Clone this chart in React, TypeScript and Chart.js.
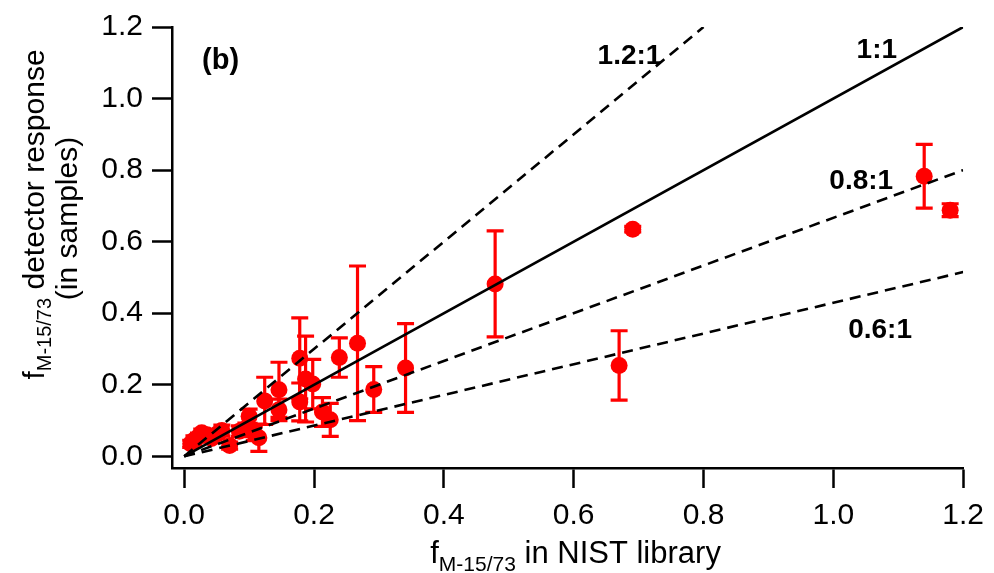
import React, { useEffect, useRef } from 'react';
import { Chart, registerables } from 'chart.js';

Chart.register(...registerables);

// ---- data ----
const xValues = [
  0.010, 0.015, 0.022, 0.027, 0.035, 0.042, 0.050, 0.058, 0.070, 0.085,
  0.095, 0.100, 0.108, 0.115, 0.124, 0.146, 0.146, 0.178, 0.178, 0.187,
  0.198, 0.213, 0.225, 0.239, 0.267, 0.292, 0.341, 0.479, 0.670, 0.691,
  1.140, 1.180,
];
const yValues = [
  0.035, 0.045, 0.055, 0.066, 0.060, 0.050, 0.062, 0.072, 0.030, 0.070,
  0.078, 0.112, 0.064, 0.052, 0.155, 0.186, 0.130, 0.274, 0.152, 0.216,
  0.202, 0.124, 0.102, 0.276, 0.316, 0.187, 0.247, 0.482, 0.254, 0.635,
  0.783, 0.688,
];
const yErrors = [
  0.010, 0.012, 0.010, 0.010, 0.012, 0.010, 0.012, 0.015, 0.010, 0.015,
  0.015, 0.020, 0.020, 0.038, 0.066, 0.077, 0.030, 0.113, 0.053, 0.120,
  0.069, 0.040, 0.046, 0.055, 0.216, 0.064, 0.124, 0.148, 0.097, 0.008,
  0.089, 0.018,
];

const ratioNames = ['1.2:1', '1:1', '0.8:1', '0.6:1'];
const ratioEndX = [0.8, 1.2, 1.2, 1.2];
const ratioEndY = [1.2, 1.2, 0.8, 0.515];
const ratioDashed = [true, false, true, true];
const ratioLabelX = [0.686, 1.067, 1.043, 1.072];
const ratioLabelY = [1.096, 1.113, 0.747, 0.331];

const panelLabel = '(b)';
const panelLabelX = 0.056;
const panelLabelY = 1.082;

const tickValues = [0, 0.2, 0.4, 0.6, 0.8, 1.0, 1.2];

const FONT = '"Liberation Sans", Arial, Helvetica, sans-serif';
const RED = '#ff0000';

type Part = { text: string; size: number; dy: number };

function drawParts(ctx: CanvasRenderingContext2D, parts: Part[], cx: number, baseY: number) {
  let total = 0;
  const widths = parts.map((p) => {
    ctx.font = `${p.size}px ${FONT}`;
    const w = ctx.measureText(p.text).width;
    total += w;
    return w;
  });
  let x = cx - total / 2;
  parts.forEach((p, i) => {
    ctx.font = `${p.size}px ${FONT}`;
    ctx.fillText(p.text, x, baseY + p.dy);
    x += widths[i];
  });
}

const errorBarPlugin = {
  id: 'errorBars',
  beforeDatasetsDraw(chart: any) {
    const { ctx } = chart;
    const xs = chart.scales.x;
    const ys = chart.scales.y;
    ctx.save();
    ctx.strokeStyle = RED;
    ctx.lineWidth = 3.2;
    for (let i = 0; i < xValues.length; i++) {
      const px = xs.getPixelForValue(xValues[i]);
      const top = ys.getPixelForValue(yValues[i] + yErrors[i]);
      const bot = ys.getPixelForValue(yValues[i] - yErrors[i]);
      ctx.beginPath();
      ctx.moveTo(px, top);
      ctx.lineTo(px, bot);
      ctx.moveTo(px - 8.5, top);
      ctx.lineTo(px + 8.5, top);
      ctx.moveTo(px - 8.5, bot);
      ctx.lineTo(px + 8.5, bot);
      ctx.stroke();
    }
    ctx.restore();
  },
};

const textPlugin = {
  id: 'texts',
  afterDraw(chart: any) {
    const { ctx } = chart;
    const xs = chart.scales.x;
    const ys = chart.scales.y;
    ctx.save();
    ctx.fillStyle = '#000';
    ctx.textBaseline = 'alphabetic';
    // ratio labels
    ctx.textAlign = 'center';
    ctx.font = `bold 28px ${FONT}`;
    for (let i = 0; i < ratioNames.length; i++) {
      ctx.fillText(ratioNames[i], xs.getPixelForValue(ratioLabelX[i]), ys.getPixelForValue(ratioLabelY[i]));
    }
    ctx.font = `bold 29px ${FONT}`;
    ctx.fillText(panelLabel, xs.getPixelForValue(panelLabelX), ys.getPixelForValue(panelLabelY));

    // axis titles
    ctx.textAlign = 'left';
    const xCenter = (xs.left + xs.right) / 2 + 8;
    drawParts(
      ctx,
      [
        { text: 'f', size: 31, dy: 0 },
        { text: 'M-15/73', size: 21, dy: 8 },
        { text: ' in NIST library', size: 31, dy: 0 },
      ],
      xCenter,
      563
    );

    const yCenter = (chart.chartArea.top + chart.chartArea.bottom) / 2 - 33;
    ctx.save();
    ctx.translate(44, yCenter);
    ctx.rotate(-Math.PI / 2);
    drawParts(
      ctx,
      [
        { text: 'f', size: 30, dy: 0 },
        { text: 'M-15/73', size: 20, dy: 7 },
        { text: ' detector response', size: 30, dy: 0 },
      ],
      0,
      0
    );
    ctx.restore();
    ctx.save();
    ctx.translate(77, yCenter + 4);
    ctx.rotate(-Math.PI / 2);
    drawParts(ctx, [{ text: '(in samples)', size: 30, dy: 0 }], 0, 0);
    ctx.restore();
    ctx.restore();
  },
};

export default function App() {
  const canvasRef = useRef<HTMLCanvasElement | null>(null);

  useEffect(() => {
    document.body.style.margin = '0';
    const canvas = canvasRef.current;
    if (!canvas) return;

    const lineSets = ratioNames.map((name, i) => ({
      type: 'scatter' as const,
      label: name,
      data: [
        { x: 0, y: 0 },
        { x: ratioEndX[i], y: ratioEndY[i] },
      ],
      showLine: true,
      borderColor: '#000',
      borderWidth: 2.6,
      borderDash: ratioDashed[i] ? [11, 7] : [],
      pointRadius: 0,
      pointHoverRadius: 0,
      fill: false,
    }));

    const pointSet = {
      type: 'scatter' as const,
      label: 'samples',
      data: xValues.map((x, i) => ({ x, y: yValues[i] })),
      backgroundColor: RED,
      borderColor: RED,
      borderWidth: 0,
      pointRadius: 8.5,
      pointHoverRadius: 8.5,
    };

    const axisCommon = (isX: boolean) => ({
      type: 'linear' as const,
      min: isX ? -0.0188 : -0.0326,
      max: 1.2,
      border: { display: true, color: '#000', width: 2.5 },
      grid: {
        drawOnChartArea: false,
        drawTicks: true,
        tickLength: 20,
        tickWidth: 2.5,
        tickColor: '#000',
        color: '#000',
      },
      ticks: {
        color: '#000',
        font: { family: FONT, size: 30 },
        padding: isX ? 10 : 9,
        autoSkip: false,
        maxRotation: 0,
        callback: (v: any) => Number(v).toFixed(1),
      },
      afterBuildTicks: (s: any) => {
        s.ticks = tickValues.map((v) => ({ value: v }));
      },
      afterFit: (s: any) => {
        if (isX) s.height = 105;
        else s.width = 172;
      },
    });

    const chart = new Chart(canvas, {
      type: 'scatter',
      data: { datasets: [...lineSets, pointSet] as any },
      options: {
        responsive: false,
        animation: false,
        devicePixelRatio: 1,
        layout: { padding: { left: 0, right: 25, top: 25, bottom: 0 } },
        plugins: {
          legend: { display: false },
          tooltip: { enabled: false },
          title: { display: false },
        },
        scales: {
          x: axisCommon(true) as any,
          y: axisCommon(false) as any,
        },
      },
      plugins: [errorBarPlugin, textPlugin],
    });

    return () => {
      chart.destroy();
    };
  }, []);

  return (
    <div style={{ width: 994, height: 573, background: '#fff' }}>
      <canvas ref={canvasRef} width={994} height={573} />
    </div>
  );
}
